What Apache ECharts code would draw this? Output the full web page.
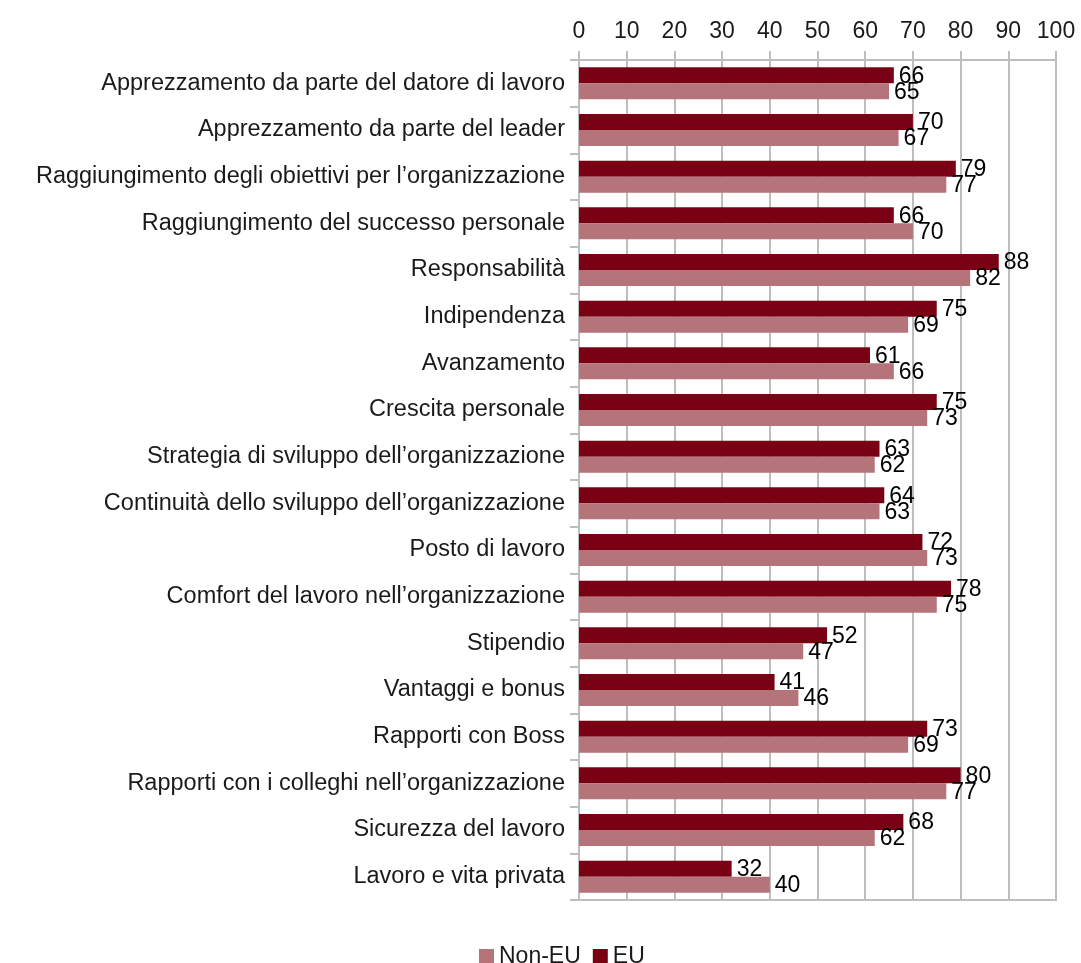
<!DOCTYPE html>
<html>
<head>
<meta charset="utf-8">
<script src="https://cdn.jsdelivr.net/npm/echarts@6/dist/echarts.min.js"></script>
<style>
  html, body { margin: 0; padding: 0; background: #ffffff; }
  #chart { width: 1081px; height: 963px; }
</style>
</head>
<body>
<div id="chart"></div>
<script>
// Categories, top to bottom
const categories = [
  'Apprezzamento da parte del datore di lavoro',
  'Apprezzamento da parte del leader',
  'Raggiungimento degli obiettivi per l’organizzazione',
  'Raggiungimento del successo personale',
  'Responsabilità',
  'Indipendenza',
  'Avanzamento',
  'Crescita personale',
  'Strategia di sviluppo dell’organizzazione',
  'Continuità dello sviluppo dell’organizzazione',
  'Posto di lavoro',
  'Comfort del lavoro nell’organizzazione',
  'Stipendio',
  'Vantaggi e bonus',
  'Rapporti con Boss',
  'Rapporti con i colleghi nell’organizzazione',
  'Sicurezza del lavoro',
  'Lavoro e vita privata'
];

const euValues    = [66, 70, 79, 66, 88, 75, 61, 75, 63, 64, 72, 78, 52, 41, 73, 80, 68, 32];
const nonEuValues = [65, 67, 77, 70, 82, 69, 66, 73, 62, 63, 73, 75, 47, 46, 69, 77, 62, 40];

const FONT = '"Liberation Sans", Arial, sans-serif';
const GRID_GREY = '#BEBEBE';

const chart = echarts.init(document.getElementById('chart'));

const valueLabel = {
  show: true,
  position: 'right',
  distance: 5,
  offset: [0, 1],
  color: '#000000',
  fontFamily: FONT,
  fontSize: 23
};

chart.setOption({
  animation: false,
  textStyle: { fontFamily: FONT },
  grid: {
    left: 579, top: 60, width: 477, height: 840,
    show: true, borderColor: GRID_GREY, borderWidth: 2
  },
  legend: {
    data: ['Non-EU', 'EU'],
    left: 474,
    top: 940,
    icon: 'rect',
    itemWidth: 15,
    itemHeight: 15,
    itemGap: 12,
    textStyle: { fontFamily: FONT, fontSize: 23, color: '#1a1a1a' }
  },
  xAxis: {
    type: 'value',
    position: 'top',
    min: 0, max: 100, interval: 10,
    axisLine: { show: true, lineStyle: { color: GRID_GREY, width: 2 } },
    axisTick: { show: true, length: 9, lineStyle: { color: GRID_GREY, width: 2 } },
    splitLine: { show: true, lineStyle: { color: GRID_GREY, width: 2 } },
    axisLabel: { color: '#1a1a1a', fontFamily: FONT, fontSize: 23, margin: 17 }
  },
  yAxis: {
    type: 'category',
    inverse: true,
    data: categories,
    axisLine: { show: true, lineStyle: { color: GRID_GREY, width: 2 } },
    axisTick: { show: true, length: 9, lineStyle: { color: GRID_GREY, width: 2 } },
    axisLabel: { color: '#1a1a1a', fontFamily: FONT, fontSize: 23.5, margin: 14 }
  },
  series: [
    {
      name: 'EU',
      type: 'bar',
      data: euValues,
      barWidth: 16,
      barGap: '0%',
      itemStyle: { color: '#7A0013' },
      label: valueLabel
    },
    {
      name: 'Non-EU',
      type: 'bar',
      data: nonEuValues,
      barWidth: 16,
      barGap: '0%',
      itemStyle: { color: '#B5737A' },
      label: valueLabel
    }
  ]
});
</script>
</body>
</html>
